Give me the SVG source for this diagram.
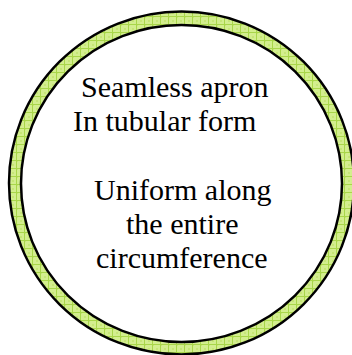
<svg xmlns="http://www.w3.org/2000/svg" width="352" height="355" viewBox="0 0 352 355">
<defs>
<pattern id="grid" x="0" y="0" width="8" height="8" patternUnits="userSpaceOnUse">
<rect width="8" height="8" fill="#d3ee8e"/>
<rect x="0" y="0" width="2" height="2" fill="#c6e676"/>
<rect x="4" y="4" width="2" height="2" fill="#c6e676"/>
<path d="M0 0.5H8M0.5 0V8" stroke="#a9d64a" stroke-width="1" fill="none"/>
</pattern>
</defs>
<rect width="352" height="355" fill="#fff"/>
<g id="apron" stroke="#000" stroke-width="2.5">
<ellipse cx="181.5" cy="183" rx="172.5" ry="171.5" fill="url(#grid)"/>
<ellipse cx="181.5" cy="183.5" rx="160.5" ry="158.5" fill="#fff"/>
</g>
<g id="labels" font-family="Liberation Serif" font-size="30">
<text x="81" y="97">Seamless apron</text>
<text x="73" y="131">In tubular form</text>
<text x="94" y="200">Uniform along</text>
<text x="126" y="234">the entire</text>
<text x="96" y="268">circumference</text>
</g>
</svg>
